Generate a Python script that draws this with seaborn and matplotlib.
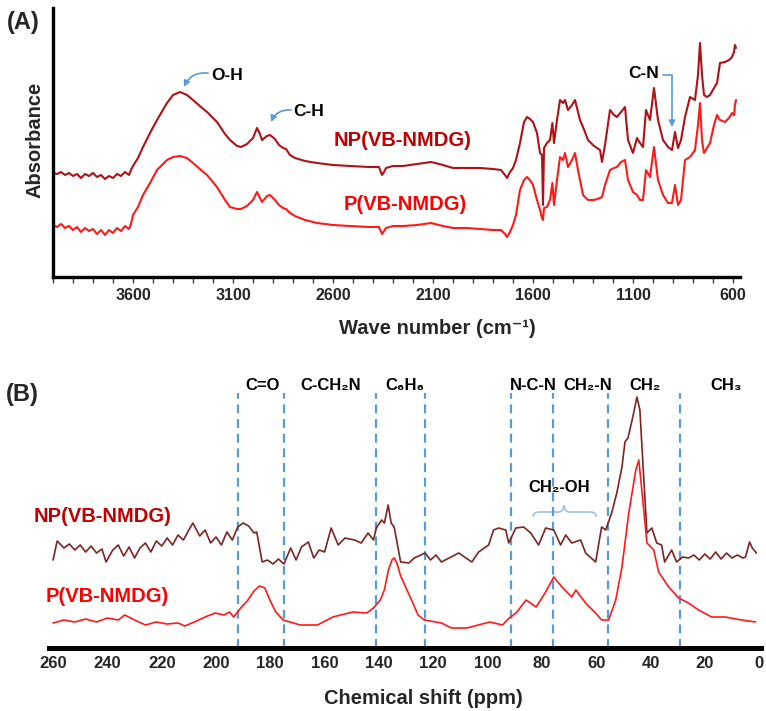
import numpy as np
import pandas as pd
import matplotlib
matplotlib.use("Agg")
import matplotlib.pyplot as plt
from matplotlib.path import Path
from matplotlib.patches import PathPatch
from matplotlib.ticker import MultipleLocator, FixedLocator
import seaborn as sns

# ---------------- FTIR spectra (panel A) ----------------
ftir_wn = [4000, 3980, 3960, 3940, 3920, 3900, 3880, 3860, 3840, 3820, 3800, 3780, 3760, 3740, 3720,
           3700, 3680, 3660, 3640, 3620, 3610, 3600, 3575, 3550, 3515, 3480, 3430, 3400, 3365, 3330,
           3300, 3260, 3230, 3180, 3140, 3115, 3080, 3060, 3030, 3000, 2980, 2965, 2955, 2930, 2915,
           2890, 2870, 2850, 2835, 2815, 2790, 2740, 2680, 2600, 2515, 2420, 2370, 2355, 2345, 2335,
           2300, 2250, 2180, 2110, 2050, 2000, 1930, 1865, 1800, 1760, 1740, 1730, 1715, 1700, 1685,
           1665, 1645, 1630, 1615, 1600, 1580, 1565, 1555, 1550, 1545, 1530, 1515, 1503, 1495, 1480,
           1465, 1450, 1440, 1425, 1405, 1390, 1375, 1365, 1350, 1325, 1295, 1265, 1255, 1240, 1215,
           1195, 1180, 1160, 1140, 1125, 1100, 1080, 1065, 1050, 1035, 1015, 995, 975, 950, 925,
           905, 890, 875, 860, 840, 815, 790, 775, 765, 755, 745, 730, 715, 695, 680,
           665, 640, 620, 605, 595, 590, 585]

ftir_np = [1.04, 1.03, 1.05, 1.02, 1.04, 1.01, 1.03, 0.99, 1.03, 1.01, 1.04, 1.00, 1.02, 0.98, 1.01,
           0.99, 1.03, 1.01, 1.05, 1.02, 1.07, 1.11, 1.19, 1.30, 1.44, 1.57, 1.74, 1.82, 1.85, 1.82,
           1.77, 1.70, 1.65, 1.55, 1.43, 1.37, 1.31, 1.30, 1.33, 1.39, 1.49, 1.43, 1.37, 1.41, 1.42,
           1.38, 1.32, 1.29, 1.28, 1.22, 1.19, 1.16, 1.14, 1.12, 1.11, 1.10, 1.10, 1.02, 1.05, 1.09,
           1.11, 1.11, 1.13, 1.15, 1.12, 1.09, 1.09, 1.09, 1.08, 1.07, 1.02, 0.99, 1.05, 1.09, 1.17,
           1.34, 1.55, 1.60, 1.58, 1.55, 1.44, 1.24, 1.22, 0.72, 1.29, 1.34, 1.37, 1.54, 1.34, 1.57,
           1.77, 1.74, 1.77, 1.67, 1.72, 1.77, 1.65, 1.57, 1.50, 1.37, 1.31, 1.27, 1.15, 1.32, 1.67,
           1.62, 1.60, 1.65, 1.70, 1.37, 1.24, 1.39, 1.34, 1.30, 1.67, 1.57, 1.89, 1.57, 1.37, 1.30,
           1.27, 1.45, 1.29, 1.37, 1.60, 1.80, 1.77, 2.02, 2.34, 2.02, 1.82, 1.80, 1.82, 1.89, 1.94,
           2.14, 2.15, 2.17, 2.20, 2.25, 2.32, 2.29]

ftir_p = [0.52, 0.50, 0.53, 0.49, 0.51, 0.47, 0.50, 0.45, 0.49, 0.46, 0.48, 0.43, 0.47, 0.42, 0.47,
          0.44, 0.49, 0.46, 0.51, 0.48, 0.53, 0.62, 0.70, 0.82, 0.94, 1.07, 1.17, 1.20, 1.21, 1.19,
          1.14, 1.07, 1.02, 0.90, 0.77, 0.70, 0.68, 0.68, 0.71, 0.77, 0.85, 0.79, 0.75, 0.81, 0.82,
          0.77, 0.72, 0.69, 0.68, 0.64, 0.61, 0.57, 0.54, 0.52, 0.51, 0.50, 0.50, 0.43, 0.46, 0.49,
          0.51, 0.51, 0.52, 0.54, 0.51, 0.49, 0.49, 0.48, 0.47, 0.47, 0.43, 0.40, 0.45, 0.52, 0.62,
          0.87, 0.97, 1.00, 0.97, 0.92, 0.77, 0.67, 0.59, 0.57, 0.69, 0.70, 0.77, 0.94, 0.72, 0.97,
          1.20, 1.17, 1.24, 1.10, 1.17, 1.24, 1.07, 0.97, 0.82, 0.77, 0.77, 0.79, 0.80, 0.92, 1.07,
          1.09, 1.10, 1.15, 1.17, 0.97, 0.85, 0.82, 0.77, 0.77, 1.07, 1.00, 1.30, 0.97, 0.82, 0.74,
          0.74, 0.92, 0.72, 0.77, 1.17, 1.20, 1.27, 1.52, 1.74, 1.37, 1.24, 1.29, 1.34, 1.52, 1.62,
          1.57, 1.55, 1.59, 1.64, 1.62, 1.72, 1.77]

ftir_ticks = [3600, 3100, 2600, 2100, 1600, 1100, 600]

# ---------------- 13C NMR spectra (panel B) ----------------
nmr_np_ppm = [260, 258.5, 256, 254, 252, 250, 248, 246, 244, 242, 240.5, 238, 236, 234, 232, 230,
              228, 226, 224, 222, 220, 218, 216, 214, 212, 210, 208.5, 206, 204, 202, 200, 198,
              196, 194, 192, 190, 188, 186, 185, 183, 181, 179, 177, 175, 172.5, 170.5, 168.5, 166,
              164, 162, 160, 157.6, 155, 152.5, 149, 146.5, 144, 142, 141, 139, 138, 136.6, 135.5,
              134.4, 132, 129, 127, 123, 121, 119, 117, 110.6, 105.8, 103.3, 99.6, 97.8, 95.9, 93.3,
              92.2, 89.6, 86.7, 84.1, 81.2, 78.6, 75.6, 73.1, 71.2, 69, 65.7, 63.9, 60.2, 58, 56.5,
              54.3, 52.4, 50.5, 49.4, 48.3, 46.5, 45, 43.9, 42.8, 41.3, 39.5, 37.7, 35.9, 34.8, 32.2,
              30.4, 28.2, 26, 24, 22, 20, 18, 16, 14, 12, 10, 8, 6, 5, 3.5, 2.5, 1]
nmr_np = [0.88, 1.07, 1.00, 1.04, 0.98, 1.03, 0.96, 1.02, 0.95, 0.99, 0.86, 0.98, 1.03, 0.92, 1.01, 0.90,
          1.00, 1.05, 0.96, 1.07, 1.02, 1.10, 1.03, 1.13, 1.08, 1.18, 1.25, 1.12, 1.18, 1.05, 1.11, 1.03,
          1.16, 1.08, 1.21, 1.25, 1.22, 1.15, 1.16, 0.86, 0.88, 0.84, 0.89, 0.84, 1.00, 0.88, 1.01, 1.06,
          0.90, 0.98, 0.96, 1.20, 1.03, 1.10, 1.08, 1.05, 1.15, 1.08, 1.20, 1.28, 1.25, 1.43, 1.25,
          1.21, 0.86, 0.85, 0.90, 0.95, 0.88, 0.93, 0.86, 0.95, 0.86, 0.96, 1.03, 1.18, 1.20, 1.18,
          1.05, 1.20, 1.21, 1.15, 1.03, 1.20, 1.18, 1.03, 1.13, 1.05, 1.08, 0.95, 0.86, 1.21, 1.18,
          1.35, 1.55, 1.81, 2.06, 2.10, 2.31, 2.51, 2.38, 1.85, 1.15, 1.20, 1.05, 1.03, 0.86, 0.98,
          0.86, 0.91, 0.90, 0.93, 0.88, 0.94, 0.89, 0.96, 0.89, 0.95, 0.90, 0.93, 0.90, 0.91, 1.06, 1.00, 0.95]

nmr_p_ppm = [260, 256, 252, 248, 244, 240, 236, 233.6, 230, 226, 222, 218, 214, 211.5, 208, 204,
             200.3, 197, 195, 193.5, 190.6, 188.5, 186, 184, 182, 180, 178, 175.3, 169, 162.6, 157,
             149.6, 144.5, 142, 139.5, 138, 136.5, 135.2, 134.4, 133.4, 132, 130, 127.5, 125.6,
             123.3, 117, 113.3, 107.6, 99.2, 94.5, 92, 89.5, 85.8, 82.1, 78.6, 75.6, 72.6, 69,
             67.5, 63.9, 60.2, 58, 55.4, 52.8, 50.5, 48, 45.4, 44.3, 43.2, 41.3, 38.8, 37, 33.3,
             29.6, 26, 22.3, 17.5, 12.4, 6.5, 1.3]
nmr_p = [0.25, 0.28, 0.26, 0.29, 0.26, 0.30, 0.28, 0.33, 0.28, 0.23, 0.26, 0.24, 0.25, 0.22, 0.26, 0.31,
         0.35, 0.33, 0.36, 0.31, 0.41, 0.47, 0.57, 0.62, 0.60, 0.47, 0.36, 0.28, 0.23, 0.23, 0.31,
         0.36, 0.35, 0.40, 0.48, 0.58, 0.78, 0.88, 0.90, 0.85, 0.72, 0.60, 0.45, 0.33,
         0.28, 0.25, 0.20, 0.20, 0.26, 0.23, 0.30, 0.35, 0.48, 0.41, 0.56, 0.71, 0.61, 0.51,
         0.58, 0.45, 0.35, 0.28, 0.28, 0.48, 0.81, 1.35, 1.78, 1.88, 1.58, 1.05, 0.98, 0.76, 0.61,
         0.50, 0.45, 0.38, 0.31, 0.31, 0.28, 0.26]

nmr_ticks = [260, 240, 220, 200, 180, 160, 140, 120, 100, 80, 60, 40, 20, 0]
region_bounds = [192, 175, 141, 123, 91.5, 76, 55.5, 29]
region_labels = ["C=O", "C-CH₂N", "C₆H₆", "N-C-N", "CH₂-N", "CH₂", "CH₃"]
region_label_ppm = [183, 157.6, 130.5, 83, 63, 42, 12]

# ---------------- style ----------------
sns.set_theme(style="white")
plt.rcParams["font.family"] = ["Liberation Sans", "DejaVu Sans"]
plt.rcParams["font.weight"] = "bold"

NP_LINE_A = "#B01116"
NP_LINE_B = "#7E2424"
P_LINE = "#FF1A1A"
NP_TEXT = "#C00000"
P_TEXT = "#FF0000"
GUIDE = "#5B9BD5"
BRACE = "#9DC3E6"

W, H = 766, 711
fig = plt.figure(figsize=(W / 100, H / 100), dpi=100)

# ================= Panel A =================
axA = fig.add_axes([53 / W, 1 - 277 / H, (740 - 53) / W, (277 - 8) / H])
df_a = pd.concat([
    pd.DataFrame({"wn": ftir_wn, "abs": ftir_np, "sample": "NP(VB-NMDG)"}),
    pd.DataFrame({"wn": ftir_wn, "abs": ftir_p, "sample": "P(VB-NMDG)"}),
])
sns.lineplot(data=df_a, x="wn", y="abs", hue="sample", estimator=None, sort=False,
             palette={"NP(VB-NMDG)": NP_LINE_A, "P(VB-NMDG)": P_LINE},
             linewidth=1.5, legend=False, ax=axA)
axA.set_xlim(4000, 565)
axA.set_ylim(0, 2.69)
for s in ["top", "right"]:
    axA.spines[s].set_visible(False)
for s in ["left", "bottom"]:
    axA.spines[s].set_linewidth(2.4)
    axA.spines[s].set_color("black")
axA.xaxis.set_major_locator(FixedLocator(ftir_ticks))
axA.xaxis.set_minor_locator(MultipleLocator(100))
axA.set_xticklabels([str(t) for t in ftir_ticks], fontsize=11.5, fontweight="bold")
axA.tick_params(axis="x", which="both", direction="out", bottom=True, length=4, width=1,
                color="#404040", pad=4)
axA.tick_params(axis="y", left=False, labelleft=False)
axA.set_xlabel("")
axA.set_ylabel("")

axA.text(2250, 1.36, "NP(VB-NMDG)", color=NP_TEXT, fontsize=14.5, fontweight="bold",
         ha="center", va="center")
axA.text(2240, 0.72, "P(VB-NMDG)", color=P_TEXT, fontsize=14.5, fontweight="bold",
         ha="center", va="center")

axA.text(3210, 2.02, "O-H", fontsize=12.5, fontweight="bold", ha="left", va="center", color="black")
axA.annotate("", xy=(3345, 1.90), xytext=(3225, 2.04),
             arrowprops=dict(arrowstyle="-|>", color=GUIDE, lw=1.2, mutation_scale=9,
                             connectionstyle="arc3,rad=0.35", shrinkA=0, shrinkB=0))
axA.text(2800, 1.65, "C-H", fontsize=12.5, fontweight="bold", ha="left", va="center", color="black")
axA.annotate("", xy=(2910, 1.55), xytext=(2810, 1.67),
             arrowprops=dict(arrowstyle="-|>", color=GUIDE, lw=1.2, mutation_scale=9,
                             connectionstyle="arc3,rad=0.35", shrinkA=0, shrinkB=0))
axA.text(1045, 2.04, "C-N", fontsize=12.5, fontweight="bold", ha="center", va="center", color="black")
axA.plot([950, 905], [2.02, 2.02], color=GUIDE, lw=1.2)
axA.annotate("", xy=(905, 1.50), xytext=(905, 2.02),
             arrowprops=dict(arrowstyle="-|>", color=GUIDE, lw=1.2, mutation_scale=9,
                             shrinkA=0, shrinkB=0))

fig.text(23 / W, 1 - 22 / H, "(A)", fontsize=17, fontweight="bold", ha="center", va="center")
fig.text(35 / W, 1 - 140 / H, "Absorbance", fontsize=14.5, fontweight="bold", rotation=90,
         ha="center", va="center")
fig.text(437 / W, 1 - 328 / H, "Wave number (cm⁻¹)", fontsize=14.5, fontweight="bold",
         ha="center", va="center")

# ================= Panel B =================
axB = fig.add_axes([49 / W, 1 - 648 / H, (761 - 49) / W, (648 - 372) / H])
df_b = pd.concat([
    pd.DataFrame({"ppm": nmr_np_ppm, "intensity": nmr_np, "sample": "NP(VB-NMDG)"}),
    pd.DataFrame({"ppm": nmr_p_ppm, "intensity": nmr_p, "sample": "P(VB-NMDG)"}),
])
axB.vlines(region_bounds, 0, 2.55, colors=GUIDE, linestyles=(0, (4, 2.6)), linewidth=1.6)
sns.lineplot(data=df_b, x="ppm", y="intensity", hue="sample", estimator=None, sort=False,
             palette={"NP(VB-NMDG)": NP_LINE_B, "P(VB-NMDG)": P_LINE},
             linewidth=1.2, legend=False, ax=axB)
axB.set_xlim(261.5, -0.7)
axB.set_ylim(0, 2.76)
for s in ["top", "right", "left"]:
    axB.spines[s].set_visible(False)
axB.spines["bottom"].set_linewidth(3.6)
axB.spines["bottom"].set_color("black")
axB.xaxis.set_major_locator(FixedLocator(nmr_ticks))
axB.set_xticklabels([str(t) for t in nmr_ticks], fontsize=12, fontweight="bold")
axB.tick_params(axis="x", bottom=False, length=0, pad=6)
axB.tick_params(axis="y", left=False, labelleft=False)
axB.set_xlabel("")
axB.set_ylabel("")

for lab, xp in zip(region_labels, region_label_ppm):
    axB.text(xp, 2.63, lab, fontsize=12, fontweight="bold", ha="center", va="center", color="black")

axB.text(73.6, 1.60, "CH₂-OH", fontsize=12, fontweight="bold", ha="center", va="center", color="black")
brace_verts = [(83.2, 1.31), (83.2, 1.36), (81.0, 1.36), (74.0, 1.36),
               (71.8, 1.36), (71.8, 1.43), (71.8, 1.36), (69.6, 1.36),
               (62.2, 1.36), (60.0, 1.36), (60.0, 1.31)]
brace_codes = [Path.MOVETO, Path.CURVE3, Path.CURVE3, Path.LINETO,
               Path.CURVE3, Path.CURVE3, Path.CURVE3, Path.CURVE3,
               Path.LINETO, Path.CURVE3, Path.CURVE3]
axB.add_patch(PathPatch(Path(brace_verts, brace_codes), facecolor="none", edgecolor=BRACE, lw=1.2))

axB.text(241.6, 1.31, "NP(VB-NMDG)", color=NP_TEXT, fontsize=14.5, fontweight="bold",
         ha="center", va="center")
axB.text(240.0, 0.51, "P(VB-NMDG)", color=P_TEXT, fontsize=14.5, fontweight="bold",
         ha="center", va="center")

fig.text(22 / W, 1 - 395 / H, "(B)", fontsize=17, fontweight="bold", ha="center", va="center")
fig.text(423 / W, 1 - 698 / H, "Chemical shift (ppm)", fontsize=14.5, fontweight="bold",
         ha="center", va="center")

fig.savefig("out.png", dpi=100)
